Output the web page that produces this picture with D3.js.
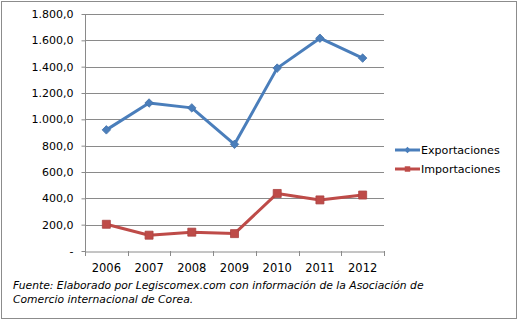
<!DOCTYPE html>
<html><head><meta charset="utf-8">
<script src="https://cdn.jsdelivr.net/npm/d3@7"></script>
<style>body{margin:0;background:#fff}svg{display:block}text{font-family:"DejaVu Sans",Verdana,sans-serif;}</style>
</head><body>
<script>
const years = ["2006","2007","2008","2009","2010","2011","2012"];
const exportaciones = [920, 1124, 1087, 810, 1389, 1616, 1465];
const importaciones = [203, 120, 143, 132, 437, 388, 425];
const yTicks = [0, 200, 400, 600, 800, 1000, 1200, 1400, 1600, 1800];
const seriesNames = ["Exportaciones", "Importaciones"];
const sourceLines = ["Fuente: Elaborado por Legiscomex.com con información de la Asociación de", "Comercio internacional de Corea."];

const W = 522, H = 324;
const svg = d3.select("body").append("svg").attr("width", W).attr("height", H);
svg.append("rect").attr("x", 1.5).attr("y", 1.5).attr("width", 515).attr("height", 317)
  .attr("fill", "#fff").attr("stroke", "#8c8c8c");

const x = d3.scaleBand().domain(years).range([85, 384]);
const y = d3.scaleLinear().domain([0, 1800]).range([251, 14]);

const fmt = v => v === 0 ? "-" : d3.formatLocale({decimal: ",", thousands: ".", grouping: [3]}).format(",.1f")(v);

// gridlines
svg.append("g").selectAll("line").data(yTicks.filter(d => d > 0)).join("line")
  .attr("x1", 85).attr("x2", 384)
  .attr("y1", d => Math.round(y(d)) + 0.5).attr("y2", d => Math.round(y(d)) + 0.5)
  .attr("stroke", "#8a8a8a").attr("stroke-width", 1);

// y axis
const yAxis = svg.append("g").attr("transform", "translate(85.5,0)")
  .call(d3.axisLeft(y).tickValues(yTicks).tickFormat(fmt).tickSize(4).tickPadding(8));
yAxis.selectAll("path,line").attr("stroke", "#8a8a8a");
yAxis.select(".domain").attr("d", `M0,${y(1800)}V${y(0)}`);
yAxis.selectAll("text").attr("font-size", 11).attr("fill", "#000").attr("font-family", '"DejaVu Sans",Verdana,sans-serif');

// x axis
const xAxis = svg.append("g").attr("transform", `translate(0,${Math.round(y(0)) + 0.5})`)
  .call(d3.axisBottom(x).tickSize(0).tickPadding(12));
xAxis.select(".domain").attr("stroke", "#8a8a8a");
xAxis.selectAll("text").attr("font-size", 11.5).attr("fill", "#000").attr("font-family", '"DejaVu Sans",Verdana,sans-serif');
svg.append("g").selectAll("line").data(years.concat(["end"])).join("line")
  .attr("x1", (d, i) => Math.round(x.range()[0] + i * x.step()) + 0.5)
  .attr("x2", (d, i) => Math.round(x.range()[0] + i * x.step()) + 0.5)
  .attr("y1", y(0)).attr("y2", y(0) + 5).attr("stroke", "#8a8a8a");

const cx = d => x(d) + x.bandwidth() / 2;
const line = d3.line().x(d => cx(d[0])).y(d => y(d[1]));

// rotated square diamond
const diamond = { draw(ctx, size) { const r = Math.sqrt(size / 2); ctx.moveTo(0, -r); ctx.lineTo(r, 0); ctx.lineTo(0, r); ctx.lineTo(-r, 0); ctx.closePath(); } };

const series = [
  {name: seriesNames[0], values: exportaciones, color: "#4a7ebb", sym: diamond, size: 36, lsize: 20},
  {name: seriesNames[1], values: importaciones, color: "#be4b48", sym: d3.symbolSquare, size: 64, lsize: 30}
];

series.forEach(s => {
  const pts = years.map((yr, i) => [yr, s.values[i]]);
  svg.append("path").attr("d", line(pts)).attr("fill", "none")
    .attr("stroke", s.color).attr("stroke-width", 3).attr("stroke-linejoin", "round");
  svg.append("g").selectAll("path").data(pts).join("path")
    .attr("d", d3.symbol().type(s.sym).size(s.size))
    .attr("transform", d => `translate(${cx(d[0])},${y(d[1])})`)
    .attr("fill", s.color).attr("stroke", d3.color(s.color).darker(0.3)).attr("stroke-width", 0.8);
});

// legend
const leg = svg.append("g");
series.forEach((s, i) => {
  const ly = 150 + i * 19;
  leg.append("line").attr("x1", 395).attr("x2", 420).attr("y1", ly).attr("y2", ly)
    .attr("stroke", s.color).attr("stroke-width", 3);
  leg.append("path").attr("d", d3.symbol().type(s.sym).size(s.lsize))
    .attr("transform", `translate(407.5,${ly})`).attr("fill", s.color);
  leg.append("text").attr("x", 421).attr("y", ly).attr("dy", "0.35em")
    .attr("font-size", 11.1).text(s.name);
});

// source
svg.append("g").selectAll("text").data(sourceLines).join("text")
  .attr("x", 13).attr("y", (d, i) => 289 + i * 14)
  .attr("font-size", 10.75).attr("font-style", "italic").text(d => d);
</script>
</body></html>
